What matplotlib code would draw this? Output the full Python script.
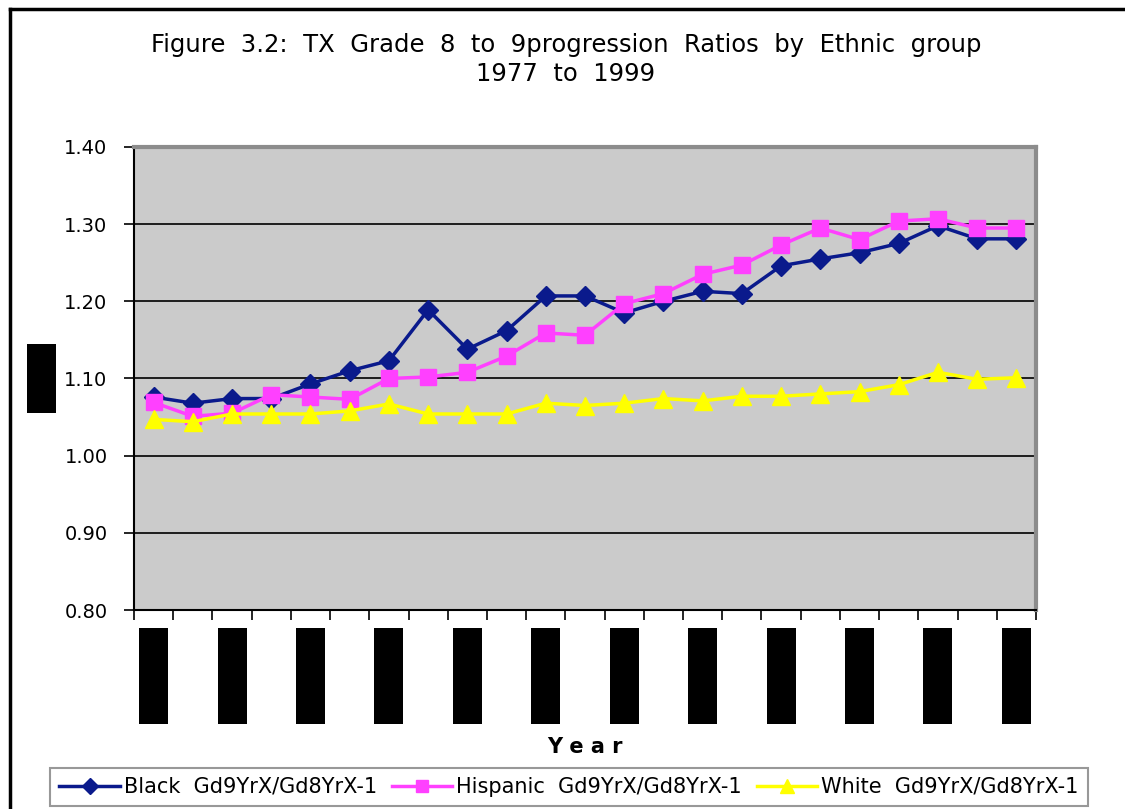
import matplotlib
matplotlib.use("Agg")
import matplotlib.pyplot as plt
from matplotlib.patches import Rectangle
import matplotlib.transforms as mtransforms
import numpy as np

years = list(range(1977, 2000))
black = [1.076, 1.068, 1.074, 1.074, 1.093, 1.110, 1.123, 1.189, 1.138, 1.162, 1.207, 1.207,
         1.185, 1.200, 1.213, 1.210, 1.246, 1.255, 1.263, 1.275, 1.298, 1.281, 1.281]
hispanic = [1.069, 1.051, 1.055, 1.079, 1.076, 1.073, 1.100, 1.102, 1.108, 1.129, 1.159, 1.156,
            1.197, 1.210, 1.235, 1.247, 1.273, 1.295, 1.280, 1.304, 1.307, 1.295, 1.295]
white = [1.047, 1.044, 1.054, 1.054, 1.054, 1.058, 1.067, 1.054, 1.054, 1.054, 1.068, 1.065,
         1.068, 1.074, 1.071, 1.077, 1.077, 1.080, 1.083, 1.092, 1.108, 1.099, 1.101]
labels = ["Black  Gd9YrX/Gd8YrX-1", "Hispanic  Gd9YrX/Gd8YrX-1", "White  Gd9YrX/Gd8YrX-1"]

plt.rcParams['font.family'] = ['DejaVu Sans']

W, H = 1125, 809
fig = plt.figure(figsize=(W / 100, H / 100), dpi=100)

# outer frame (top and left edges only visible)
fig.add_artist(plt.Line2D([10 / W, 1], [1 - 9 / H, 1 - 9 / H], color='black', lw=2.5, transform=fig.transFigure))
fig.add_artist(plt.Line2D([10 / W, 10 / W], [0, 1 - 9 / H], color='black', lw=2.5, transform=fig.transFigure))

ax = fig.add_axes([134 / W, 1 - 610 / H, (1036 - 134) / W, (610 - 147) / H])
ax.set_facecolor('#cbcbcb')

x = np.arange(len(years))
ax.plot(x, black, color='#0a1a8c', lw=2.5, marker='D', ms=10, label=labels[0], zorder=3)
ax.plot(x, hispanic, color='#ff40ff', lw=2.5, marker='s', ms=11, label=labels[1], zorder=3)
ax.plot(x, white, color='#ffff00', lw=2.5, marker='^', ms=13, label=labels[2], zorder=3)

ax.set_xlim(-0.5, len(years) - 0.5)
ax.set_ylim(0.8, 1.4)
ax.set_yticks(np.arange(0.8, 1.401, 0.1))
ax.set_yticklabels([f"{v:.2f}" for v in np.arange(0.8, 1.401, 0.1)], fontsize=14)
ax.yaxis.grid(True, color='black', lw=1.2)
ax.set_axisbelow(True)

# category boundaries as ticks, year labels under every other category
ax.set_xticks(np.arange(-0.5, len(years), 1.0))
ax.set_xticklabels([])
ax.tick_params(axis='both', direction='out', length=7, width=1.2, color='black')
ax.tick_params(axis='y', pad=12)

for s in ['top', 'right']:
    ax.spines[s].set_color('#8c8c8c')
    ax.spines[s].set_linewidth(3)
ax.spines['left'].set_linewidth(1.5)
ax.spines['bottom'].set_linewidth(1.5)

trans = mtransforms.blended_transform_factory(ax.transData, ax.transAxes)
for i in range(0, len(years), 2):
    ax.add_patch(Rectangle((i - 0.37, -0.246), 0.74, 0.207, transform=trans,
                           facecolor='black', edgecolor='none', clip_on=False))
    ax.text(i, -0.14, str(years[i]), transform=trans, rotation=90, color='black',
            ha='center', va='center', fontsize=12)

# y-axis title box
fig.add_artist(Rectangle((27 / W, 1 - 413 / H), 29 / W, 69 / H, transform=fig.transFigure,
                         facecolor='black', edgecolor='none'))
fig.text(41.5 / W, 1 - 378 / H, "Ratio", rotation=90, color='black', ha='center', va='center', fontsize=12)

fig.text(585 / W, 1 - 747 / H, "Y e a r", ha='center', va='center', fontsize=15, fontweight='bold')

fig.text(566 / W, 1 - 45 / H, "Figure  3.2:  TX  Grade  8  to  9progression  Ratios  by  Ethnic  group",
         ha='center', va='center', fontsize=17.5)
fig.text(566 / W, 1 - 74 / H, "1977  to  1999", ha='center', va='center', fontsize=17.5)

leg = fig.legend(loc='center', bbox_to_anchor=(569 / W, 1 - 787 / H), ncol=3, fontsize=15,
                 frameon=True, fancybox=False, handlelength=2.9, handletextpad=0.2,
                 columnspacing=0.7, borderpad=0.45, markerscale=0.8)
leg.get_frame().set_edgecolor('#7f7f7f')
leg.get_frame().set_linewidth(1.5)

fig.savefig("out.png", dpi=100)
